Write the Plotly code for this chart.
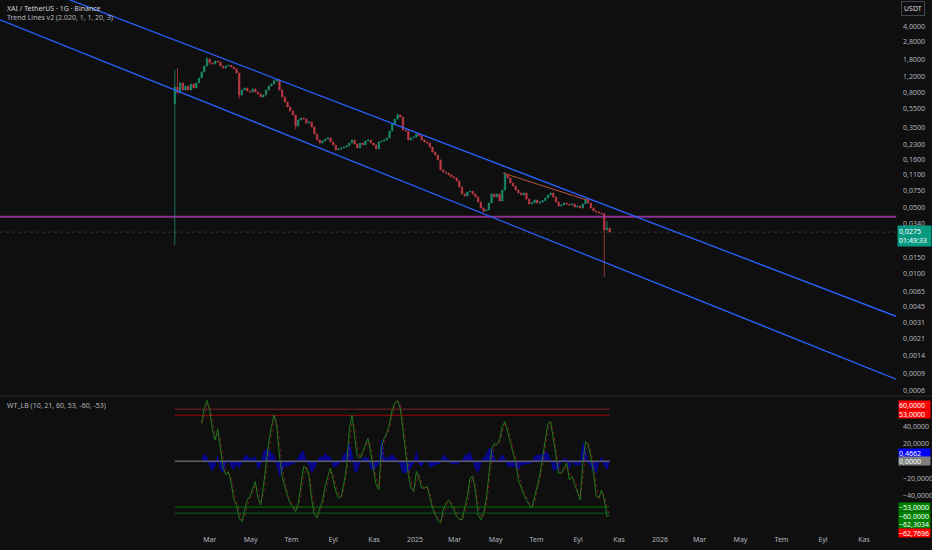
import numpy as np
import pandas as pd
import plotly.graph_objects as go

# ---------------- data ----------------
candle_start = "2024-01-09"
candle_step = "4D"
first_open = 0.62
closes = [
    0.92, 0.80, 1.02, 0.858, 0.946, 0.858, 0.993, 0.901, 1.017, 1.15,
    1.33, 1.535, 1.82, 1.651, 1.61, 1.73, 1.69, 1.535, 1.463, 1.535,
    1.56, 1.498, 1.43, 1.296, 0.761, 0.858, 0.901, 0.838, 0.818, 0.88,
    0.818, 0.78, 0.725, 0.761, 0.858, 0.946, 0.993, 1.067, 1.094, 0.858,
    0.725, 0.642, 0.569, 0.516, 0.469, 0.359, 0.415, 0.436, 0.425, 0.386,
    0.396, 0.350, 0.296, 0.256, 0.238, 0.25, 0.262, 0.269, 0.244, 0.227,
    0.201, 0.206, 0.211, 0.216, 0.222, 0.238, 0.256, 0.232, 0.211, 0.238,
    0.227, 0.25, 0.256, 0.238, 0.227, 0.206, 0.244, 0.25, 0.256, 0.269,
    0.318, 0.377, 0.425, 0.469, 0.447, 0.326, 0.318, 0.256, 0.269, 0.275,
    0.296, 0.282, 0.256, 0.244, 0.238, 0.216, 0.191, 0.178, 0.158, 0.124,
    0.118, 0.115, 0.110, 0.105, 0.102, 0.0948, 0.0820, 0.0692, 0.066, 0.0726,
    0.0740, 0.0692, 0.0644, 0.057, 0.0493, 0.0459, 0.0470, 0.0556, 0.0692, 0.0644,
    0.0692, 0.0584, 0.0762, 0.110, 0.102, 0.0903, 0.0839, 0.0762, 0.0709, 0.0676,
    0.0709, 0.0613, 0.0543, 0.0560, 0.0598, 0.0556, 0.057, 0.0590, 0.0628, 0.0676,
    0.0709, 0.0644, 0.057, 0.0517, 0.0530, 0.0556, 0.0543, 0.0530, 0.0543, 0.0505,
    0.0517, 0.0493, 0.0543, 0.0613, 0.0556, 0.0493, 0.0459, 0.0448, 0.0437, 0.0430,
    0.0290, 0.0302, 0.0275,
]
wick_high = {0: 1.39, 1: 1.46, 12: 1.90, 37: 1.12, 83: 0.49, 123: 0.118, 161: 0.036}
wick_low = {0: 0.0201, 24: 0.70, 45: 0.33, 115: 0.044, 160: 0.0093}

wt_start_index = 10
wt1 = [
    43.8, 61, 69.9, 58.7, 36, 24.5, 36.9, 16.9, -8.1, -15.7,
    -11.9, -25.4, -44.6, -50.4, -65.8, -69.7, -58.2, -44.6, -40.8, -33.1,
    -23.5, -42.7, -50.4, -29.2, -2.3, 22.7, 40, 53.4, 40, 5.4,
    -17.7, -29.2, -40.8, -48.5, -54.2, -58.1, -48.5, -29.2, -6.1, -8,
    -17.7, -44.6, -61.9, -65.8, -54.2, -46.5, -29.2, -17.7, -8, -21.5,
    -35, -42.7, -40.8, -25.4, -6.1, 36, 53.4, 28.4, 5.4, 3.5,
    11.1, 18.8, 26.5, 9.2, -11.9, -27.3, -33.1, 16.9, 26.5, 32.3,
    43.8, 59.1, 67.6, 69.9, 61, 34.2, 7.3, -15.8, -31.1, -35,
    -11.9, -19.6, -31.1, -31.1, -29.2, -42.7, -54.2, -61.9, -67.7, -71.6,
    -56.2, -48.5, -44.6, -50.4, -56.2, -63.9, -67, -67.7, -54.2, -40.8,
    -19.6, -17.7, -35, -61.9, -67.7, -60, -44.6, -15.8, 13.1, 20.8,
    18.8, 24.6, 40, 45.7, 34.2, 22.7, 11.1, -2.3, -21.5, -31.1,
    -38.8, -44.6, -50.4, -54.2, -42.7, -29.2, -15.8, 3.5, 26.5, 43.8,
    45.7, 24.6, 5.4, -13.9, -13.9, -8, -2.3, -21.5, -17.7, -27.3,
    -35, -44.6, -2.3, 22.7, 18.8, 5.4, -13.9, -40.8, -42.7, -33.1,
    -44.6, -63.9, -62.3,
]
ob_levels = [60, 53]
os_levels = [-53, -60]

view_dates = ["2023-04-23 12:00", "2026-12-18 17:00"]
upper_channel_prices = [14.55, 0.00358]
lower_channel_prices = [4.69, 0.000781]
resistance_dates = ["2025-05-12", "2025-09-14"]
resistance_prices = [0.115, 0.0598]
support_price = 0.0400

price_ticks = [4.0, 2.8, 1.8, 1.2, 0.8, 0.55, 0.35, 0.23, 0.16, 0.11, 0.075, 0.05,
               0.034, 0.015, 0.01, 0.0065, 0.0045, 0.0031, 0.0021, 0.0014, 0.0009, 0.0006]
price_tick_text = ["4,0000", "2,8000", "1,8000", "1,2000", "0,8000", "0,5500", "0,3500",
                   "0,2300", "0,1600", "0,1100", "0,0750", "0,0500", "0,0340", "0,0150",
                   "0,0100", "0,0065", "0,0045", "0,0031", "0,0021", "0,0014", "0,0009", "0,0006"]
osc_ticks = [40, 20, -20, -40]
osc_tick_text = ["40,0000", "20,0000", "\u221220,0000", "\u221240,0000"]
month_ticks = ["2024-03-01", "2024-05-01", "2024-07-01", "2024-09-01", "2024-11-01",
               "2025-01-01", "2025-03-01", "2025-05-01", "2025-07-01", "2025-09-01",
               "2025-11-01", "2026-01-01", "2026-03-01", "2026-05-01", "2026-07-01",
               "2026-09-01", "2026-11-01"]
month_text = ["Mar", "May", "Tem", "Eyl", "Kas", "2025", "Mar", "May", "Tem", "Eyl",
              "Kas", "2026", "Mar", "May", "Tem", "Eyl", "Kas"]

# boxed value labels on the oscillator scale: (value, text, colour, vertical nudge)
osc_value_boxes = [
    (60, "60,0000", "#ff0000", 4),
    (53, "53,0000", "#ff0000", 1),
    (0.4662, "0,4662", "#0000ff", 8),
    (0, "0,0000", "#808080", 0),
    (-53, "\u221253,0000", "#008000", 0),
    (-60, "\u221260,0000", "#008000", -3),
    (-62.3034, "\u221262,3034", "#008000", -9),
    (-62.7696, "\u221262,7696", "#ff0000", -17),
]

# ---------------- build ----------------
BG = "#0f0f0f"
AX = "#b2b5be"
FONT = "Noto Sans"

dates = pd.date_range(candle_start, periods=len(closes), freq=candle_step)
opens = [first_open] + closes[:-1]
highs = [max(o, c, wick_high.get(i, 0)) for i, (o, c) in enumerate(zip(opens, closes))]
lows = [min(o, c, wick_low.get(i, np.inf)) for i, (o, c) in enumerate(zip(opens, closes))]

wt_dates = dates[wt_start_index:]
wt1_s = pd.Series(wt1, dtype=float)
wt2_s = wt1_s.rolling(2, min_periods=1).mean()
hist = wt1_s - wt2_s

fig = go.Figure()

# channel and drawings
fig.add_trace(go.Scatter(x=view_dates, y=[support_price, support_price], mode="lines",
                         line=dict(color="rgba(160,55,165,0.85)", width=2), xaxis="x", yaxis="y"))
fig.add_trace(go.Scatter(x=view_dates, y=[closes[-1], closes[-1]], mode="lines",
                         line=dict(color="rgba(120,120,120,0.35)", width=1, dash="dot"), xaxis="x", yaxis="y"))
fig.add_trace(go.Scatter(x=view_dates, y=upper_channel_prices, mode="lines",
                         line=dict(color="#2962ff", width=1.3), xaxis="x", yaxis="y"))
fig.add_trace(go.Scatter(x=view_dates, y=lower_channel_prices, mode="lines",
                         line=dict(color="#2962ff", width=1.3), xaxis="x", yaxis="y"))
fig.add_trace(go.Candlestick(x=dates, open=opens, high=highs, low=lows, close=closes,
                             increasing=dict(line=dict(color="#1b8a6c", width=0.8), fillcolor="#1b8a6c"),
                             decreasing=dict(line=dict(color="#bd3a45", width=0.8), fillcolor="#bd3a45"),
                             xaxis="x", yaxis="y", whiskerwidth=0))
fig.add_trace(go.Scatter(x=resistance_dates, y=resistance_prices, mode="lines",
                         line=dict(color="#b8553a", width=1), xaxis="x", yaxis="y"))

# oscillator pane
span = [dates[0], dates[-1]]
fig.add_trace(go.Scatter(x=wt_dates, y=hist, mode="lines", fill="tozeroy",
                         line=dict(color="rgba(0,0,255,0.6)", width=0.5),
                         fillcolor="rgba(0,0,255,0.5)", xaxis="x", yaxis="y2"))
fig.add_trace(go.Scatter(x=span, y=[0, 0], mode="lines",
                         line=dict(color="#8c8c8c", width=1), xaxis="x", yaxis="y2"))
for lv, col in zip(ob_levels, ["rgba(255,60,60,0.45)", "rgba(220,0,0,0.7)"]):
    fig.add_trace(go.Scatter(x=span, y=[lv, lv], mode="lines",
                             line=dict(color=col, width=1), xaxis="x", yaxis="y2"))
for lv, col in zip(os_levels, ["rgba(0,150,0,0.75)", "rgba(0,170,60,0.5)"]):
    fig.add_trace(go.Scatter(x=span, y=[lv, lv], mode="lines",
                             line=dict(color=col, width=1), xaxis="x", yaxis="y2"))
fig.add_trace(go.Scatter(x=wt_dates, y=wt1_s, mode="lines",
                         line=dict(color="#1f7a1f", width=1), xaxis="x", yaxis="y2"))
fig.add_trace(go.Scatter(x=wt_dates, y=wt2_s, mode="lines",
                         line=dict(color="rgba(255,40,40,0.4)", width=1, dash="dot"), xaxis="x", yaxis="y2"))

W, H = 932, 550
ML, MR, MT, MB = 0, 36, 0, 16
PH = H - MT - MB
PW = W - ML - MR
main_bottom_px = 395
osc_top_px = 397
main_dom = [1 - main_bottom_px / PH, 1]
osc_dom = [0, 1 - osc_top_px / PH]


def px_x(p):
    return p / PW


def px_y(p):
    return 1 - p / PH


fig.update_layout(
    width=W, height=H, margin=dict(l=ML, r=MR, t=MT, b=MB),
    paper_bgcolor=BG, plot_bgcolor=BG, showlegend=False,
    font=dict(family=FONT, size=7, color=AX),
    xaxis=dict(type="date", range=view_dates, anchor="y2", domain=[0, 1],
               tickvals=month_ticks, ticktext=month_text, showgrid=False, zeroline=False,
               showline=False, ticks="", rangeslider=dict(visible=False),
               tickfont=dict(size=7, color=AX, family=FONT)),
    yaxis=dict(type="log", range=[-3.2734, 0.8801], domain=main_dom, side="right", anchor="x",
               tickvals=price_ticks, ticktext=price_tick_text, showgrid=False, zeroline=False,
               showline=False, ticks="", ticklabelstandoff=6,
               tickfont=dict(size=7, color=AX, family=FONT)),
    yaxis2=dict(range=[-84.1, 74.1], domain=osc_dom, side="right", anchor="x",
                tickvals=osc_ticks, ticktext=osc_tick_text, showgrid=False, zeroline=False,
                showline=False, ticks="", ticklabelstandoff=6,
                tickfont=dict(size=7, color=AX, family=FONT)),
)

# pane separator
fig.add_shape(type="line", xref="paper", yref="paper", x0=0, x1=W / PW,
              y0=px_y(396), y1=px_y(396), line=dict(color="#2a2a2a", width=1))

ann = []
ann.append(dict(xref="paper", yref="paper", x=px_x(5), y=px_y(8), xanchor="left", yanchor="middle",
                text="XAI / TetherUS \u00b7 1G \u00b7 Binance", showarrow=False,
                font=dict(size=7, color="#d1d4dc", family=FONT)))
ann.append(dict(xref="paper", yref="paper", x=px_x(5), y=px_y(18), xanchor="left", yanchor="middle",
                text="Trend Lines v2 (2.020, 1, 1, 20, 3)", showarrow=False,
                font=dict(size=7, color=AX, family=FONT)))
ann.append(dict(xref="paper", yref="paper", x=px_x(5), y=px_y(405), xanchor="left", yanchor="middle",
                text="WT_LB (10, 21, 60, 53, -60, -53)", showarrow=False,
                font=dict(size=7, color=AX, family=FONT)))
ann.append(dict(xref="paper", yref="paper", x=px_x(913), y=px_y(8.5), xanchor="center", yanchor="middle",
                text="USDT", showarrow=False, bordercolor="#434651", borderwidth=1, borderpad=2,
                bgcolor=BG, font=dict(size=7, color="#d1d4dc", family=FONT)))
ann.append(dict(xref="paper", yref="y", x=px_x(914), y=np.log10(closes[-1]), xanchor="center",
                yanchor="top", yshift=7, text="0,0275<br>01:49:33", showarrow=False,
                bgcolor="#089981", borderpad=1, width=31, align="left",
                font=dict(size=7, color="#ffffff", family=FONT)))
for val, txt, col, dy in osc_value_boxes:
    ann.append(dict(xref="paper", yref="y2", x=px_x(914), y=val, xanchor="center", yanchor="middle",
                    yshift=dy, text=txt, showarrow=False, bgcolor=col, width=31, height=8,
                    borderpad=0, align="left", font=dict(size=7, color="#ffffff", family=FONT)))
fig.update_layout(annotations=ann)

fig.write_html(
    "out.html",
    config={"displayModeBar": False},
    post_script="document.body.style.margin='0';document.body.style.padding='0';"
                "document.body.style.overflow='hidden';document.body.style.background='#0f0f0f';",
)
